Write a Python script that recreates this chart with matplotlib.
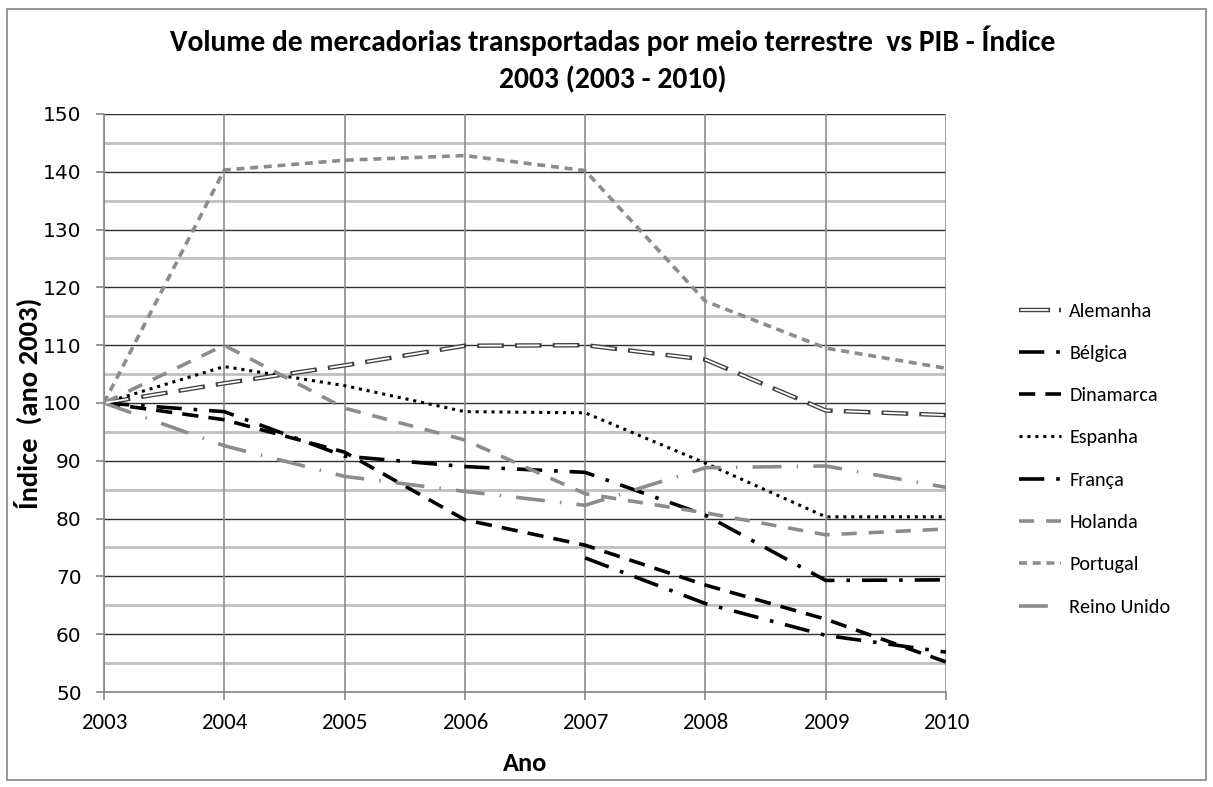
import numpy as np
import matplotlib.pyplot as plt
from matplotlib.lines import Line2D
from matplotlib.legend_handler import HandlerTuple
from matplotlib.patches import Rectangle

# dados: índice (2003 = 100)
anos = [2003, 2004, 2005, 2006, 2007, 2008, 2009, 2010]
alemanha = [100, 103.4, 106.5, 109.9, 110.0, 107.5, 98.7, 97.9]
belgica = [np.nan, np.nan, np.nan, np.nan, 73.2, 65.3, 59.8, 56.9]
dinamarca = [100, 97.1, 91.5, 79.8, 75.4, 68.5, 62.6, 55.2]
espanha = [100, 106.3, 103.0, 98.5, 98.3, 89.6, 80.3, 80.3]
franca = [100, 98.5, 90.8, 89.0, 88.0, 80.6, 69.3, 69.4]
holanda = [100, 110.0, 99.1, 93.6, 84.3, 81.0, 77.2, 78.2]
portugal = [100, 140.3, 142.0, 142.8, 140.2, 117.6, 109.5, 106.0]
reino_unido = [100, 92.6, 87.3, 84.7, 82.3, 88.8, 89.1, 85.4]

FONT = ['Carlito', 'DejaVu Sans']
BLACK = '#000000'
GREY = '#8c8c8c'

fig = plt.figure(figsize=(12.13, 7.87), dpi=100)
ax = fig.add_axes([0.0857, 0.1207, 0.6942, 0.7345])

# moldura exterior do gráfico
fig.patches.append(Rectangle((0.006, 0.009), 0.988, 0.98, transform=fig.transFigure,
                             fill=False, edgecolor='#868686', linewidth=1.2))

longdashdot = (0, (7, 3.3, 1, 3.3))
handles = []

# Alemanha: linha dupla (contorno escuro, centro branco)
ax.plot(anos, alemanha, color='#404040', lw=3.2, linestyle=(0, (6, 2.5)),
        dash_capstyle='butt', zorder=3)
ax.plot(anos, alemanha, color='white', lw=1.3, linestyle=(19.8, (12.46, 8.46)),
        dash_capstyle='butt', zorder=3.1)
leg_outer = Line2D([], [], color='#404040', lw=3.2, linestyle=(0, (7, 2, 0.6, 5)),
                   dash_capstyle='butt')
leg_inner = Line2D([], [], color='white', lw=1.3, linestyle=(35.1, (15.5, 20.4)),
                   dash_capstyle='butt')
handles.append(((leg_outer, leg_inner), 'Alemanha'))

h, = ax.plot(anos, belgica, color=BLACK, lw=2.6, linestyle=longdashdot, zorder=3)
handles.append((h, 'Bélgica'))
h, = ax.plot(anos, dinamarca, color=BLACK, lw=2.6, linestyle=(0, (4.5, 2.8)), zorder=3)
handles.append((h, 'Dinamarca'))
h, = ax.plot(anos, espanha, color=BLACK, lw=2.2, linestyle=(0, (1, 1.6)),
             dash_capstyle='butt', zorder=3)
handles.append((h, 'Espanha'))
h, = ax.plot(anos, franca, color=BLACK, lw=2.6, linestyle=longdashdot, zorder=3)
handles.append((h, 'França'))
h, = ax.plot(anos, holanda, color=GREY, lw=2.6, linestyle=(0, (4.2, 3.3)), zorder=3)
handles.append((h, 'Holanda'))
h, = ax.plot(anos, portugal, color=GREY, lw=2.6, linestyle=(0, (2.2, 1.6)), zorder=3)
handles.append((h, 'Portugal'))
h, = ax.plot(anos, reino_unido, color=GREY, lw=2.6, linestyle=(0, (8, 4.2, 0.4, 4.2)), zorder=3)
handles.append((h, 'Reino Unido'))

ax.set_xlim(2003, 2010)
ax.set_ylim(50, 150)
ax.set_xticks(anos)
ax.set_yticks(np.arange(50, 151, 10))

# grelha
for y in np.arange(50, 151, 10):
    ax.axhline(y, color='#303030', lw=1.0, zorder=1)
for y in np.arange(55, 150, 10):
    ax.axhline(y, color='#c0c0c0', lw=2.0, zorder=0.9)
for x in anos:
    ax.axvline(x, color='#8c8c8c', lw=1.2, zorder=1)

for s in ['top', 'right']:
    ax.spines[s].set_visible(False)
for s in ['left', 'bottom']:
    ax.spines[s].set_color('#868686')
    ax.spines[s].set_linewidth(1.2)

ax.tick_params(axis='both', direction='out', length=6, color='#868686', width=1.2)
ax.tick_params(axis='y', labelsize=14.5, pad=10)
ax.tick_params(axis='x', labelsize=16.5, pad=9)
for lbl in ax.get_xticklabels():
    lbl.set_family(FONT)

ax.set_xlabel('Ano', fontsize=19, fontweight='bold', family=FONT, labelpad=14)
ax.set_ylabel('Índice  (ano 2003)', fontsize=20.5, fontweight='bold', family=FONT, labelpad=1)

fig.text(0.505, 0.9244, 'Volume de mercadorias transportadas por meio terrestre  vs PIB - Índice\n2003 (2003 - 2010)',
         ha='center', va='center', fontsize=21.3, fontweight='bold', family=FONT, linespacing=1.43)

leg = ax.legend([h for h, _ in handles], [l for _, l in handles],
                handler_map={tuple: HandlerTuple(ndivide=1, pad=0)},
                loc='center left', bbox_to_anchor=(1.077, 0.403), frameon=False,
                borderaxespad=0, handlelength=2.1, labelspacing=1.25, handletextpad=0.4,
                prop={'size': 14.5, 'family': FONT})

fig.savefig('out.png', dpi=100)
